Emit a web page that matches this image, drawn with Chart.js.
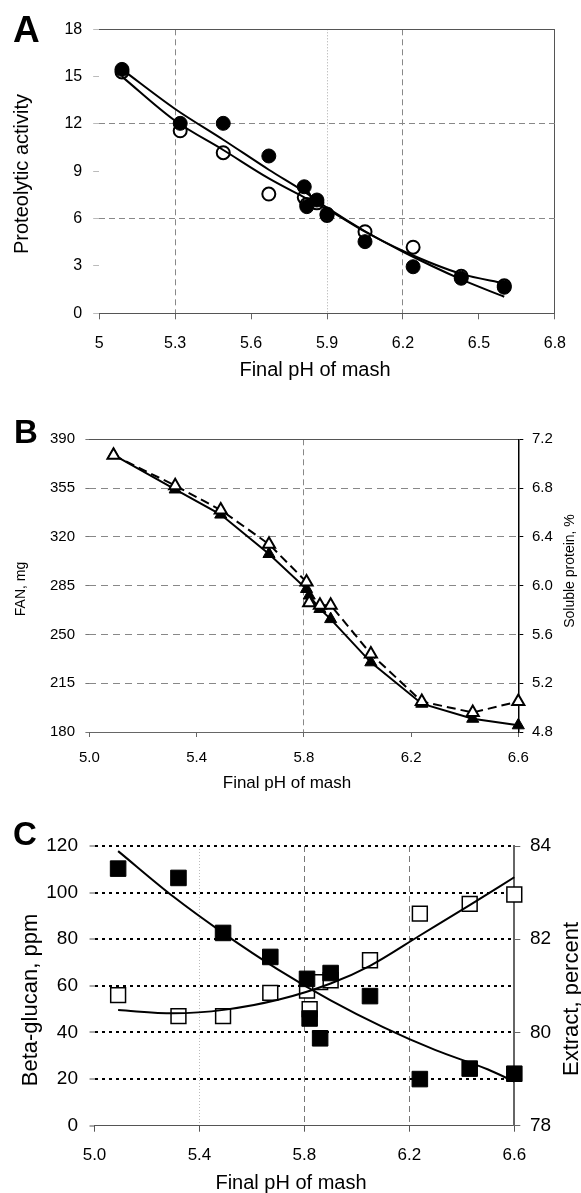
<!DOCTYPE html>
<html>
<head>
<meta charset="utf-8">
<script src="https://cdn.jsdelivr.net/npm/chart.js@4.4.1/dist/chart.umd.min.js"></script>
<style>
  html, body { margin: 0; padding: 0; background: #fff; }
  body { width: 581px; height: 1193px; position: relative; overflow: hidden; }
  canvas { position: absolute; left: 0; }
</style>
</head>
<body>
<canvas id="chartA" width="581" height="390" style="top:0px"></canvas>
<canvas id="chartB" width="581" height="415" style="top:385px"></canvas>
<canvas id="chartC" width="581" height="403" style="top:790px"></canvas>
<script>
// final pH of mash, shared by the three panels
const mashPh = [5.09, 5.32, 5.49, 5.67, 5.81, 5.82, 5.86, 5.90, 6.05, 6.24, 6.43, 6.60];

// panel A - proteolytic activity
const activityFilled = [15.46, 12.04, 12.04, 9.97, 8.02, 6.76, 7.18, 6.29, 4.54, 2.95, 2.22, 1.65];
const activityOpen = [15.3, 11.57, 10.18, 7.56, 7.35, 6.9, 7.0, 6.2, 5.17, 4.19, 2.35, 1.75];
const activityFitPh = [5.09, 5.3, 5.49, 5.67, 5.81, 5.9, 6.05, 6.2, 6.43, 6.6];
const activityFitFilled = [15.46, 12.95, 11.0, 9.1, 7.71, 6.7, 5.2, 3.9, 2.15, 1.05];
const activityFitOpen = [15.0, 12.2, 10.35, 8.55, 7.35, 6.6, 5.17, 3.95, 2.5, 1.9];

// panel B - FAN (mg) and soluble protein (%)
const fanMg = [378.8, 354, 336, 307.7, 282.6, 277.9, 268.3, 261, 230, 200.3, 189.5, 184.8];
const solubleProtein = [7.07, 6.82, 6.62, 6.34, 6.03, 5.86, 5.84, 5.84, 5.44, 5.05, 4.96, 5.05];

// panel C - beta-glucan (ppm) and extract (%)
const betaGlucan = [110.3, 106.3, 82.7, 72.4, 63, 46, 37.5, 65.5, 55.6, 20, 24.5, 22.3];
const extractPct = [80.8, 80.35, 80.35, 80.85, 80.9, 80.5, 81.08, 81.12, 81.55, 82.55, 82.76, 82.96];
const glucanFitPh = [5.09, 5.3, 5.5, 5.7, 5.9, 6.1, 6.3, 6.5, 6.6];
const glucanFit = [117.8, 98.3, 81.9, 67.0, 53.8, 42.3, 32.4, 24.1, 18.9];
const extractFitPh = [5.09, 5.3, 5.5, 5.7, 5.9, 6.05, 6.24, 6.43, 6.6];
const extractFit = [80.48, 80.41, 80.49, 80.70, 81.05, 81.43, 82.08, 82.73, 83.33];

const FONT = '"Liberation Sans", Arial, Helvetica, sans-serif';
Chart.defaults.font.family = FONT;
Chart.defaults.color = '#000';
Chart.defaults.animation = false;
Chart.defaults.plugins.legend.display = false;
Chart.defaults.plugins.tooltip.enabled = false;

function pts(xs, ys) {
  return xs.map((x, i) => ({ x: x, y: ys[i] }));
}
function near(v, list) {
  return list.some(t => Math.abs(v - t) < 1e-6);
}
function fixWidth(w) { return s => { s.width = w; }; }
function fixHeight(h) { return s => { s.height = h; }; }

// axis titles and panel letters
function textLayer(items) {
  return {
    id: 'textLayer',
    afterDraw(chart) {
      const ctx = chart.ctx;
      items.forEach(t => {
        ctx.save();
        ctx.font = t.font + ' ' + FONT;
        ctx.fillStyle = '#000';
        ctx.translate(t.x, t.y);
        if (t.rot) ctx.rotate(t.rot);
        ctx.textAlign = t.align || 'center';
        ctx.textBaseline = t.base || 'middle';
        ctx.fillText(t.text, 0, 0);
        ctx.restore();
      });
    }
  };
}

const CLEAR = 'rgba(0,0,0,0)';
const UP = -Math.PI / 2;

// ---------- A ----------
new Chart(document.getElementById('chartA'), {
  type: 'line',
  data: {
    datasets: [
      { data: pts(activityFitPh, activityFitFilled), borderColor: '#000', borderWidth: 2, pointRadius: 0,
        cubicInterpolationMode: 'monotone', order: 0, clip: false },
      { data: pts(activityFitPh, activityFitOpen), borderColor: '#000', borderWidth: 2, pointRadius: 0,
        cubicInterpolationMode: 'monotone', order: 0, clip: false },
      { data: pts(mashPh, activityFilled), showLine: false, pointStyle: 'circle', pointRadius: 7,
        pointBackgroundColor: '#000', pointBorderColor: '#000', pointBorderWidth: 1, order: 1, clip: false },
      { data: pts(mashPh, activityOpen), showLine: false, pointStyle: 'circle', pointRadius: 6.5,
        pointBackgroundColor: '#fff', pointBorderColor: '#000', pointBorderWidth: 2, order: 2, clip: false }
    ]
  },
  options: {
    responsive: false,
    layout: { padding: { top: 29.3, right: 17, bottom: 0, left: 0 } },
    scales: {
      x: {
        type: 'linear', min: 5, max: 6.8, afterFit: fixHeight(76.7),
        ticks: { stepSize: 0.3, padding: 15, font: { size: 16 }, maxRotation: 0, autoSkip: false,
          callback: v => String(+v.toFixed(1)) },
        grid: {
          color: c => near(c.tick.value, [5.3, 6.2]) ? '#888' : near(c.tick.value, [5.9]) ? '#aaa' :
            near(c.tick.value, [6.8]) ? '#555' : CLEAR,
          tickColor: '#666', tickLength: 6
        },
        border: { display: true, color: '#555', width: 1,
          dash: c => c.type !== 'tick' ? [] : near(c.tick.value, [5.3, 6.2]) ? [6, 4] :
            near(c.tick.value, [5.9]) ? [1, 2] : [] }
      },
      y: {
        min: 0, max: 18, afterFit: fixWidth(99.2),
        ticks: { stepSize: 3, padding: 11, font: { size: 16 } },
        grid: {
          color: c => near(c.tick.value, [6, 12]) ? '#888' : near(c.tick.value, [18]) ? '#555' : CLEAR,
          tickColor: '#bbb', tickLength: 6
        },
        border: { display: false,
          dash: c => c.type === 'tick' && near(c.tick.value, [6, 12]) ? [6, 4] : [] }
      }
    }
  },
  plugins: [textLayer([
    { text: 'A', x: 13, y: 42, font: 'bold 37px', align: 'left', base: 'alphabetic' },
    { text: 'Proteolytic activity', x: 22, y: 174, rot: UP, font: '20px' },
    { text: 'Final pH of mash', x: 315, y: 370, font: '20px' }
  ])]
});

// ---------- B ----------
new Chart(document.getElementById('chartB'), {
  type: 'line',
  data: {
    datasets: [
      { data: pts(mashPh, fanMg), yAxisID: 'y', borderColor: '#000', borderWidth: 2,
        pointStyle: 'triangle', pointRadius: 7, pointBackgroundColor: '#000', pointBorderColor: '#000',
        pointBorderWidth: 1, order: 2, clip: false },
      { data: pts(mashPh, solubleProtein), yAxisID: 'y1', borderColor: '#000', borderWidth: 2, borderDash: [9, 5],
        pointStyle: 'triangle', pointRadius: 7, pointBackgroundColor: '#fff', pointBorderColor: '#000',
        pointBorderWidth: 2, order: 1, clip: false }
    ]
  },
  options: {
    responsive: false,
    layout: { padding: { top: 54.3, right: 0, bottom: 0, left: 0 } },
    scales: {
      x: {
        type: 'linear', min: 5.0, max: 6.6, afterFit: fixHeight(68),
        ticks: { stepSize: 0.4, padding: 11.7, font: { size: 15 }, maxRotation: 0, autoSkip: false,
          callback: v => v.toFixed(1) },
        grid: { color: c => near(c.tick.value, [5.8]) ? '#888' : CLEAR, tickColor: '#666', tickLength: 5 },
        border: { display: true, color: '#666', width: 1,
          dash: c => c.type === 'tick' && near(c.tick.value, [5.8]) ? [6, 4] : [] }
      },
      y: {
        position: 'left', min: 180, max: 390, afterFit: fixWidth(89.4),
        ticks: { stepSize: 35, padding: 10.4, font: { size: 15 } },
        grid: {
          color: c => near(c.tick.value, [390]) ? '#555' : near(c.tick.value, [180]) ? CLEAR : '#888',
          tickColor: '#777', tickLength: 4
        },
        border: { display: false,
          dash: c => c.type === 'tick' && !near(c.tick.value, [390]) ? [7, 5] : [] }
      },
      y1: {
        position: 'right', min: 4.8, max: 7.2, afterFit: fixWidth(62.7),
        ticks: { stepSize: 0.4, padding: 8.7, font: { size: 15 }, callback: v => v.toFixed(1) },
        grid: { drawOnChartArea: false, color: '#000', tickColor: '#000', tickLength: 5 },
        border: { display: true, color: '#000', width: 1.5 }
      }
    }
  },
  plugins: [textLayer([
    { text: 'B', x: 14, y: 58, font: 'bold 33px', align: 'left', base: 'alphabetic' },
    { text: 'FAN, mg', x: 21, y: 204, rot: UP, font: '14px' },
    { text: 'Soluble protein, %', x: 570, y: 186, rot: UP, font: '14px' },
    { text: 'Final pH of mash', x: 287, y: 398, font: '17px' }
  ])]
});

// ---------- C ----------
new Chart(document.getElementById('chartC'), {
  type: 'line',
  data: {
    datasets: [
      { data: pts(glucanFitPh, glucanFit), yAxisID: 'y', borderColor: '#000', borderWidth: 2, pointRadius: 0,
        cubicInterpolationMode: 'monotone', order: 0, clip: false },
      { data: pts(extractFitPh, extractFit), yAxisID: 'y1', borderColor: '#000', borderWidth: 2, pointRadius: 0,
        cubicInterpolationMode: 'monotone', order: 0, clip: false },
      { data: pts(mashPh, betaGlucan), yAxisID: 'y', showLine: false, pointStyle: 'rect', pointRadius: 11,
        pointBackgroundColor: '#000', pointBorderColor: '#000', pointBorderWidth: 1, order: 1, clip: false },
      { data: pts(mashPh, extractPct), yAxisID: 'y1', showLine: false, pointStyle: 'rect', pointRadius: 10.5,
        pointBackgroundColor: '#fff', pointBorderColor: '#000', pointBorderWidth: 1.5, order: 2, clip: false }
    ]
  },
  options: {
    responsive: false,
    layout: { padding: { top: 56, right: 0, bottom: 0, left: 0 } },
    scales: {
      x: {
        type: 'linear', min: 5.0, max: 6.6, afterFit: fixHeight(67.3),
        ticks: { stepSize: 0.4, padding: 13, font: { size: 17 }, maxRotation: 0, autoSkip: false,
          callback: v => v.toFixed(1) },
        grid: {
          color: c => near(c.tick.value, [5.8, 6.2]) ? '#777' : near(c.tick.value, [5.4]) ? '#bbb' : CLEAR,
          tickColor: '#555', tickLength: 6
        },
        border: { display: true, color: '#555', width: 1,
          dash: c => c.type !== 'tick' ? [] : near(c.tick.value, [5.8, 6.2]) ? [6, 4] :
            near(c.tick.value, [5.4]) ? [1, 2] : [] }
      },
      y: {
        position: 'left', min: 0, max: 120, afterFit: fixWidth(94.5),
        ticks: { stepSize: 20, padding: 11.5, font: { size: 19 } },
        grid: {
          color: c => near(c.tick.value, [0]) ? CLEAR : '#000',
          lineWidth: 2, tickColor: '#555', tickWidth: 1, tickLength: 5
        },
        border: { display: false, dash: c => c.type === 'tick' ? [3, 4] : [] }
      },
      y1: {
        position: 'right', min: 78, max: 84, afterFit: fixWidth(66.7),
        ticks: { stepSize: 2, padding: 9.7, font: { size: 19 } },
        grid: { drawOnChartArea: false, color: '#666', tickColor: '#666', tickLength: 6 },
        border: { display: true, color: '#666', width: 2 }
      }
    }
  },
  plugins: [textLayer([
    { text: 'C', x: 13, y: 55, font: 'bold 33px', align: 'left', base: 'alphabetic' },
    { text: 'Beta-glucan, ppm', x: 31, y: 210, rot: UP, font: '22px' },
    { text: 'Extract, percent', x: 572, y: 209, rot: UP, font: '22px' },
    { text: 'Final pH of mash', x: 291, y: 393, font: '20px' }
  ])]
});
</script>
</body>
</html>
